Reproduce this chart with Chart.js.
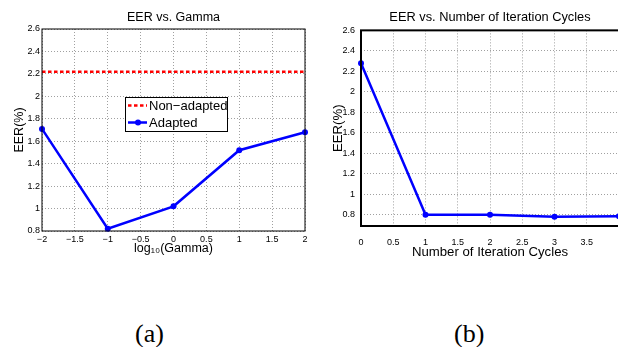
<!DOCTYPE html>
<html>
<head>
<meta charset="utf-8">
<script src="https://cdn.jsdelivr.net/npm/chart.js@4.4.0/dist/chart.umd.min.js"></script>
<style>
    html, body { margin: 0; padding: 0; background: #fff; overflow: hidden; }
    body { width: 618px; height: 347px; position: relative; }
    canvas { position: absolute; top: 0; }
    .caption {
        position: absolute;
        font-family: "Liberation Serif", "Times New Roman", serif;
        font-size: 26px;
        line-height: 26px;
        color: #000;
    }
</style>
</head>
<body>
<canvas id="gammaChart" width="310" height="260" style="left:0;"></canvas>
<canvas id="cycleChart" width="312" height="260" style="left:310px;"></canvas>
<div class="caption" style="left:135px; top:321px;">(a)</div>
<div class="caption" style="left:454px; top:321px;">(b)</div>

<script>
// Panel (a): EER vs. log10(Gamma)
const gammaLog = [-2, -1, 0, 1, 2];
const adaptedEER = [1.71, 0.82, 1.02, 1.52, 1.68];
const nonAdaptedX = [-2, 2];
const nonAdaptedEER = [2.22, 2.22];
const gammaXTicks = [-2, -1.5, -1, -0.5, 0, 0.5, 1, 1.5, 2];
const eerTicks = [0.8, 1, 1.2, 1.4, 1.6, 1.8, 2, 2.2, 2.4, 2.6];

// Panel (b): EER vs. number of iteration cycles
const cycles = [0, 1, 2, 3, 4];
const cycleEER = [2.28, 0.80, 0.80, 0.78, 0.785];
const cycleXTicks = [0, 0.5, 1, 1.5, 2, 2.5, 3, 3.5, 4];

const FONT = '"Liberation Sans", Arial, Helvetica, sans-serif';

function fmt(v) {
    const s = String(Number(v.toFixed(2)));
    return s.replace('-', '\u2212');
}

function toPoints(xs, ys) {
    return xs.map((x, i) => ({ x: x, y: ys[i] }));
}

// Box around the plot area, like a MATLAB axes
const frame = {
    id: 'frame',
    afterDatasetsDraw(chart, args, opts) {
        const a = chart.chartArea;
        const ctx = chart.ctx;
        ctx.save();
        ctx.strokeStyle = '#000';
        ctx.lineWidth = opts.width || 1;
        ctx.strokeRect(a.left, a.top, a.right - a.left, a.bottom - a.top);
        ctx.restore();
    }
};

// Legend box drawn inside the plot area
const boxLegend = {
    id: 'boxLegend',
    afterDraw(chart, args, opts) {
        if (!opts.show) return;
        const ctx = chart.ctx;
        const { x, y, w, h } = opts;
        ctx.save();
        ctx.fillStyle = '#fff';
        ctx.fillRect(x, y, w, h);
        ctx.strokeStyle = '#000';
        ctx.lineWidth = 1;
        ctx.strokeRect(x + 0.5, y + 0.5, w, h);
        ctx.font = '13px ' + FONT;
        ctx.textBaseline = 'middle';
        const rowH = h / chart.data.datasets.length;
        chart.data.datasets.slice().reverse().forEach((ds, i) => {
            const cy = y + rowH * (i + 0.5);
            ctx.strokeStyle = ds.borderColor;
            ctx.lineWidth = ds.borderWidth;
            ctx.setLineDash(ds.borderDash || []);
            ctx.beginPath();
            ctx.moveTo(x + 3, cy);
            ctx.lineTo(x + 22, cy);
            ctx.stroke();
            ctx.setLineDash([]);
            if (ds.pointRadius > 0) {
                ctx.fillStyle = ds.borderColor;
                ctx.beginPath();
                ctx.arc(x + 13, cy, ds.pointRadius, 0, Math.PI * 2);
                ctx.fill();
            }
            ctx.fillStyle = '#000';
            ctx.fillText(ds.label, x + 24, cy + 1);
        });
        ctx.restore();
    }
};

function makeScales(opt) {
    const gridStyle = { color: '#a0a0a0', lineWidth: 1, drawTicks: false };
    return {
        x: {
            type: 'linear',
            min: opt.xMin,
            max: opt.xMax,
            afterBuildTicks: s => { s.ticks = opt.xTicks.map(v => ({ value: v })); },
            afterFit: s => { s.height = opt.xHeight; s.paddingLeft = 0; s.paddingRight = 0; },
            border: { display: false, dash: [1, 2] },
            grid: gridStyle,
            ticks: {
                color: '#000', font: { family: FONT, size: 9 }, padding: opt.xTickPad,
                maxRotation: 0, autoSkip: false,
                callback: v => (opt.xHide && opt.xHide.includes(v)) ? '' : fmt(v)
            },
            title: {
                display: true, text: opt.xTitle, color: '#000',
                font: { family: FONT, size: opt.labelSize }, padding: { top: 0, bottom: opt.xTitlePad }
            }
        },
        y: {
            type: 'linear',
            min: opt.yMin,
            max: 2.6,
            afterBuildTicks: s => { s.ticks = eerTicks.map(v => ({ value: v })); },
            afterFit: s => { s.width = opt.yWidth; },
            border: { display: false, dash: [1, 2] },
            grid: gridStyle,
            ticks: {
                color: '#000', font: { family: FONT, size: 9 }, padding: opt.yTickPad,
                autoSkip: false, callback: v => fmt(v)
            },
            title: {
                display: true, text: 'EER(%)', color: '#000',
                font: { family: FONT, size: opt.labelSize }, padding: { top: opt.yTitlePad, bottom: 0 }
            }
        }
    };
}

new Chart(document.getElementById('gammaChart'), {
    type: 'scatter',
    data: {
        datasets: [
            {
                label: 'Adapted',
                data: toPoints(gammaLog, adaptedEER),
                showLine: true,
                borderColor: '#0000ff',
                backgroundColor: '#0000ff',
                borderWidth: 2.5,
                pointRadius: 3,
                pointBorderWidth: 0,
                pointHoverRadius: 3,
                clip: false
            },
            {
                label: 'Non\u2212adapted',
                data: toPoints(nonAdaptedX, nonAdaptedEER),
                showLine: true,
                borderColor: '#ff0000',
                backgroundColor: '#ff0000',
                borderWidth: 2.5,
                borderDash: [3.5, 2.5],
                pointRadius: 0
            }
        ]
    },
    options: {
        responsive: false,
        animation: false,
        layout: { padding: { left: 0, right: 5, top: 0, bottom: 0 } },
        plugins: {
            legend: { display: false },
            tooltip: { enabled: false },
            title: {
                display: true, text: 'EER vs. Gamma', color: '#000', fullSize: false,
                font: { family: FONT, size: 12.5, weight: 'normal' },
                padding: { top: 10, bottom: 4 }
            },
            frame: { width: 1 },
            boxLegend: { show: true, x: 125, y: 97, w: 102, h: 34 }
        },
        scales: makeScales({
            xMin: -2, xMax: 2, xTicks: gammaXTicks, xHeight: 29, xTickPad: 3,
            xTitle: 'log\u2081\u2080(Gamma)', xTitlePad: 4, labelSize: 12.5,
            yMin: 0.8, yWidth: 42, yTickPad: 2, yTitlePad: 12
        })
    },
    plugins: [frame, boxLegend]
});

new Chart(document.getElementById('cycleChart'), {
    type: 'scatter',
    data: {
        datasets: [
            {
                label: 'EER',
                data: toPoints(cycles, cycleEER),
                showLine: true,
                borderColor: '#0000ff',
                backgroundColor: '#0000ff',
                borderWidth: 2.5,
                pointRadius: 3,
                pointBorderWidth: 0,
                pointHoverRadius: 3,
                clip: false
            }
        ]
    },
    options: {
        responsive: false,
        animation: false,
        layout: { padding: { left: 0, right: 0, top: 0, bottom: 0 } },
        plugins: {
            legend: { display: false },
            tooltip: { enabled: false },
            title: {
                display: true, text: 'EER vs. Number of Iteration Cycles', color: '#000', fullSize: false,
                font: { family: FONT, size: 12.8, weight: 'normal' },
                padding: { top: 10, bottom: 5 }
            },
            frame: { width: 2 },
            boxLegend: { show: false }
        },
        scales: makeScales({
            xMin: 0, xMax: 4, xTicks: cycleXTicks, xHide: [4], xHeight: 34, xTickPad: 11,
            xTitle: 'Number of Iteration Cycles', xTitlePad: 0, labelSize: 13.2,
            yMin: 0.69, yWidth: 51, yTickPad: 6, yTitlePad: 20
        })
    },
    plugins: [frame, boxLegend]
});
</script>
</body>
</html>
